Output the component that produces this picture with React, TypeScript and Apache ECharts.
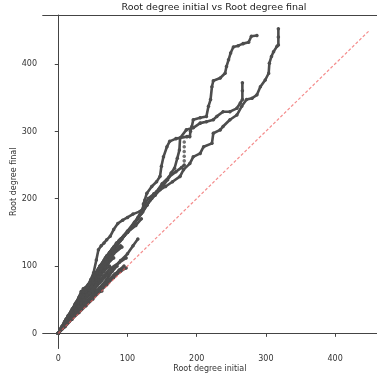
import React, { useEffect, useRef } from "react";
import * as echarts from "echarts";

// Axis ticks
const xTicks = [0, 100, 200, 300, 400];
const yTicks = [0, 100, 200, 300, 400];

// Identity reference line
const identityLine = [[0, 0], [450, 450]];

// Long trajectories [initial, final]
const trajA = [[0, 0], [10, 17], [20, 33], [30, 50], [38, 62], [43, 72], [47, 80], [51, 90], [55, 109], [58, 124], [62, 130], [66, 134], [70, 139], [75, 144], [80, 154], [86, 163], [93, 168], [100, 172], [108, 177], [118, 181], [122, 183], [123, 192], [125, 198], [128, 208], [135, 218], [142, 225], [147, 233], [149, 248], [152, 262], [157, 277], [161, 285], [170, 289], [186, 292], [190, 292], [191, 300], [193, 307], [195, 317], [205, 320], [214, 322], [217, 337], [220, 347], [222, 366], [224, 375], [234, 379], [241, 386], [243, 396], [246, 406], [249, 416], [253, 425], [260, 427], [267, 430], [275, 432], [279, 441], [287, 442]];
const trajB = [[0, 0], [10, 15], [20, 30], [30, 46], [40, 62], [50, 78], [60, 93], [70, 108], [78, 120], [85, 130], [92, 140], [100, 150], [108, 160], [115, 170], [122, 180], [128, 190], [133, 198], [140, 205], [147, 213], [155, 218], [165, 225], [176, 233], [181, 243], [190, 252], [195, 262], [205, 267], [210, 277], [222, 282], [224, 297], [234, 302], [238, 307], [248, 317], [258, 324], [265, 337], [272, 347], [280, 349], [287, 354], [292, 366], [299, 376], [304, 386], [305, 401], [308, 411], [311, 418], [316, 426], [318, 428], [318, 440], [318, 452]];
const trajC = [[0, 0], [10, 16], [20, 32], [30, 48], [40, 63], [50, 80], [60, 95], [70, 110], [80, 125], [90, 138], [100, 150], [108, 160], [115, 172], [120, 182], [125, 192], [130, 200], [138, 207], [145, 213], [152, 220], [158, 228], [163, 238], [168, 245], [172, 260], [175, 272], [176, 290], [185, 302], [195, 305], [205, 312], [214, 314], [224, 317], [229, 322], [238, 329], [248, 329], [258, 334], [263, 342], [266, 347], [266, 360], [266, 372]];
const trajD = [[0, 0], [10, 17], [20, 33], [30, 50], [40, 66], [50, 83], [60, 100], [70, 115], [80, 128], [90, 140], [100, 152], [110, 165], [120, 178], [128, 190], [135, 200], [142, 210], [150, 222], [160, 232], [170, 240], [178, 246], [182, 250]];
const trajDJump = [[182, 256], [182, 263], [182, 270], [182, 277], [182, 284]];

// Short trajectories in the dense wedge
const trajS1 = [[0, 0], [10, 10], [20, 21], [30, 31], [40, 41], [50, 51], [60, 62], [70, 72], [80, 83], [90, 92], [98, 97]];
const trajS2 = [[0, 0], [10, 12], [20, 24], [30, 36], [40, 47], [50, 58], [60, 68], [70, 80], [78, 92], [85, 100]];
const trajS3 = [[0, 0], [8, 11], [16, 22], [25, 34], [33, 45], [42, 57], [50, 68], [58, 80], [65, 92], [72, 104], [80, 112]];
const trajS4 = [[0, 0], [6, 9], [12, 18], [20, 29], [28, 41], [36, 53], [44, 64], [52, 76], [60, 88], [68, 98], [75, 110], [82, 122], [90, 130]];
const trajS5 = [[0, 0], [5, 8], [12, 19], [20, 33], [28, 45], [35, 58], [42, 70], [50, 82], [58, 96], [66, 108], [74, 120], [84, 134], [95, 145]];
const trajS6 = [[0, 0], [5, 9], [10, 18], [18, 31], [25, 44], [32, 57], [38, 66], [45, 74], [52, 86], [60, 98], [68, 112], [78, 125], [88, 138], [100, 150], [112, 160], [120, 170]];
const trajS7 = [[0, 0], [4, 7], [9, 16], [15, 27], [22, 38], [28, 48], [33, 62], [40, 65], [48, 70], [55, 83], [62, 95], [70, 106], [80, 118], [92, 128]];
const trajS8 = [[0, 0], [15, 20], [30, 40], [45, 60], [55, 72], [65, 85], [75, 96], [88, 105], [98, 112]];
const trajS9 = [[0, 0], [5, 6], [15, 18], [25, 30], [35, 40], [45, 50], [55, 60], [63, 63]];
const trajS10 = [[0, 0], [10, 15], [20, 28], [30, 40], [40, 52], [50, 62], [60, 75], [70, 86], [80, 96], [90, 108], [100, 118], [108, 130], [115, 140]];
const trajS11 = [[0, 0], [7, 9], [14, 17], [22, 26], [30, 35], [38, 44], [46, 52], [55, 61], [64, 70], [72, 78], [82, 88], [92, 95]];
const trajS12 = [[0, 0], [6, 10], [13, 20], [21, 31], [29, 40], [37, 50], [45, 60], [53, 69], [62, 78], [70, 86], [78, 93]];
const trajS13 = [[0, 0], [5, 10], [11, 21], [18, 32], [24, 43], [30, 54], [36, 62], [42, 68], [50, 76], [58, 84], [66, 92], [74, 100]];
const trajS14 = [[0, 0], [4, 8], [9, 17], [14, 26], [20, 36], [26, 46], [32, 56], [36, 66], [44, 72], [50, 80], [56, 90], [62, 100], [68, 110]];
const trajS15 = [[0, 0], [8, 9], [16, 18], [24, 27], [32, 36], [40, 45], [48, 54], [56, 63], [64, 71], [72, 79], [80, 86], [88, 94], [95, 100]];

const lineTrajs = [trajA, trajB, trajC, trajD, trajS1, trajS2, trajS3, trajS4, trajS5, trajS6, trajS7, trajS8, trajS9, trajS10, trajS11, trajS12, trajS13, trajS14, trajS15];

const FONT = "DejaVu Sans";
const DOT = "#4d4d4d";

export default function App() {
  const ref = useRef<HTMLDivElement>(null);
  useEffect(() => {
    if (!ref.current) return;
    const chart = echarts.init(ref.current, undefined, { renderer: "svg" });
    const trajSeries = lineTrajs.map((d) => ({
      type: "line",
      data: d,
      xAxisIndex: 0,
      yAxisIndex: 0,
      symbol: "circle",
      symbolSize: 3.5,
      showAllSymbol: true,
      lineStyle: { color: DOT, width: 2.6 },
      itemStyle: { color: DOT },
      z: 2,
      silent: true,
    }));
    chart.setOption({
      animation: false,
      graphic: [
        {
          type: "text",
          x: 214,
          y: 6,
          style: {
            text: "Root degree initial vs Root degree final",
            font: `9.5px '${FONT}'`,
            fill: "#222",
            align: "center",
            verticalAlign: "middle",
          },
        },
      ],
      grid: { left: 42.7, right: 0, top: 15, bottom: 26.5, containLabel: false, outerBoundsMode: "none" },
      xAxis: [
        {
          type: "value",
          min: -22.5,
          max: 460.5,
          position: "bottom",
          name: "Root degree initial",
          nameLocation: "middle",
          nameGap: 19.5,
          nameMoveOverlap: false,
          nameTextStyle: { fontFamily: FONT, fontSize: 8, color: "#333", verticalAlign: "middle" },
          axisLine: { show: true, lineStyle: { color: "#444", width: 1 } },
          axisTick: { show: true, length: 3.5, customValues: xTicks, lineStyle: { color: "#444" } },
          axisLabel: { customValues: xTicks, fontFamily: FONT, fontSize: 8, color: "#333", margin: 5.5 },
          splitLine: { show: false },
        },
        {
          type: "value",
          min: -22.5,
          max: 460.5,
          position: "top",
          axisLine: { show: true, lineStyle: { color: "#444", width: 1 } },
          axisTick: { show: false },
          axisLabel: { show: false },
          splitLine: { show: false },
        },
      ],
      yAxis: [
        {
          type: "value",
          min: -22.5,
          max: 472.5,
          name: "Root degree final",
          nameLocation: "middle",
          nameGap: 29.5,
          nameRotate: 90,
          nameMoveOverlap: false,
          nameTextStyle: { fontFamily: FONT, fontSize: 8, color: "#333", verticalAlign: "middle" },
          axisLine: { show: true, lineStyle: { color: "#444", width: 1 } },
          axisTick: { show: true, length: 3.5, customValues: yTicks, lineStyle: { color: "#444" } },
          axisLabel: { customValues: yTicks, fontFamily: FONT, fontSize: 8, color: "#333", margin: 5.7 },
          splitLine: { show: false },
        },
      ],
      series: [
        ...trajSeries,
        {
          type: "scatter",
          data: trajDJump,
          symbol: "circle",
          symbolSize: 3.5,
          itemStyle: { color: DOT },
          z: 2,
          silent: true,
        },
        {
          type: "line",
          data: identityLine,
          symbol: "none",
          lineStyle: { color: "rgba(240,90,90,0.7)", width: 1.2, type: [3, 2] },
          z: 3,
          silent: true,
        },
      ],
    });
    return () => chart.dispose();
  }, []);
  return <div ref={ref} style={{ position: "fixed", left: 0, top: 0, width: 377, height: 375 }} />;
}
